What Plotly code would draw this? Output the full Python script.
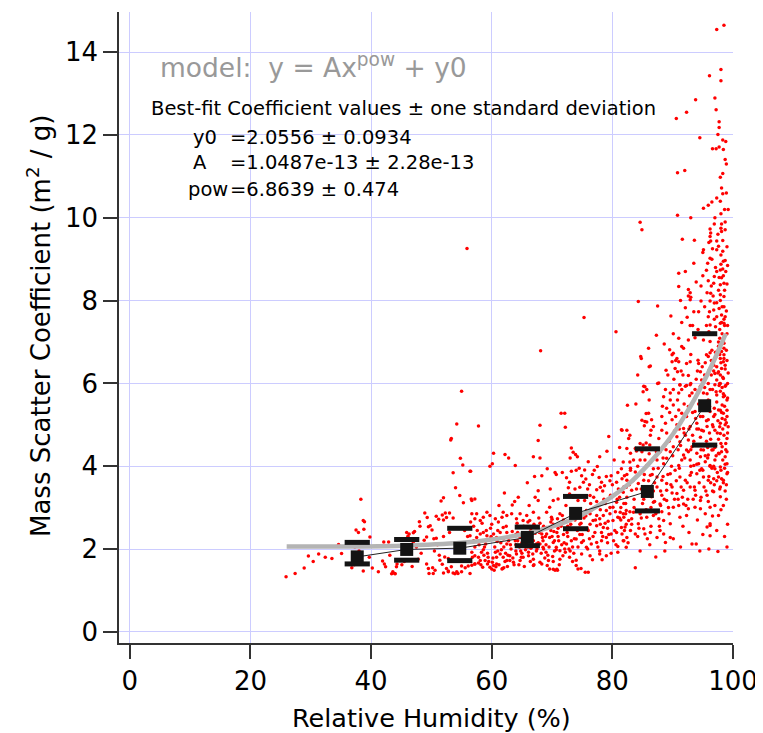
import plotly.graph_objects as go

# ---------------- data ----------------
# binned means with asymmetric spread markers
bin_rh = [37.7, 45.9, 54.7, 65.9, 73.9, 85.8, 95.3]
bin_msc = [1.81, 1.99, 2.02, 2.28, 2.86, 3.39, 5.46]
bin_upper = [2.16, 2.23, 2.50, 2.53, 3.27, 4.42, 7.20]
bin_lower = [1.64, 1.73, 1.72, 2.08, 2.49, 2.92, 4.51]

# fitted curve  y = A x^pow + y0
fit_rh = [26, 35, 45, 55, 60, 65, 70, 75, 80, 83, 86, 89, 91, 92, 93, 94, 95, 96, 97, 98, 98.8]
fit_msc = [2.06, 2.06, 2.08, 2.15, 2.23, 2.35, 2.54, 2.83, 3.27, 3.61, 4.05, 4.57, 4.98, 5.22, 5.46, 5.72, 6.00, 6.29, 6.60, 6.93, 7.20]

fit_y0 = "2.0556 ± 0.0934"
fit_A = "1.0487e-13 ± 2.28e-13"
fit_pow = "6.8639 ± 0.474"

x_ticks = [0, 20, 40, 60, 80, 100]
y_ticks = [0, 2, 4, 6, 8, 10, 12, 14]

# individual observations (RH %, mass scatter coefficient)
obs_low = [
    (25.9, 1.33), (27.4, 1.41), (28.9, 1.54), (29.6, 1.83), (30.4, 1.70), (31.3, 1.88), (32.4, 1.80),
    (33.5, 1.77), (34.6, 2.11), (35.1, 1.89), (37.5, 2.46), (37.9, 2.40), (38.3, 3.20), (38.7, 2.69),
    (38.9, 2.66), (38.8, 2.48), (39.8, 2.29), (38.7, 1.47), (39.7, 1.80), (40.2, 1.54), (41.2, 1.45),
    (41.9, 1.71), (42.2, 1.64), (42.4, 1.57), (42.1, 2.17), (42.9, 2.17), (43.1, 1.85), (43.4, 1.40),
    (44.0, 1.40), (44.2, 1.57), (44.3, 1.64), (45.1, 1.62), (36.8, 1.55), (37.2, 1.62), (38.0, 1.95),
    (37.3, 2.05), (43.6, 1.45), (43.9, 1.41),
    (45.9, 2.40), (46.1, 2.31), (46.3, 2.36), (47.0, 2.39), (47.2, 2.42), (48.0, 2.66), (48.1, 2.55),
    (48.9, 2.87), (49.3, 2.76), (49.5, 2.54), (49.8, 2.56), (50.1, 2.46), (49.2, 2.29), (48.8, 2.21),
    (49.2, 1.64), (49.5, 1.53), (49.6, 1.41), (50.2, 1.55), (50.4, 2.25), (50.8, 2.26), (50.8, 2.79),
    (51.2, 2.72), (51.8, 2.82), (52.0, 2.70), (52.3, 2.87), (52.5, 2.76), (53.0, 2.87), (53.6, 2.75),
    (51.6, 3.16), (52.0, 3.24), (53.6, 3.84), (54.0, 3.48), (54.8, 4.19), (55.2, 4.03), (56.4, 3.88),
    (54.7, 3.29), (55.3, 3.12), (56.6, 3.21), (53.2, 4.63), (54.2, 5.02), (53.3, 4.67), (55.0, 5.81),
    (55.9, 9.26), (51.4, 1.73), (51.8, 1.63), (52.2, 1.81), (52.5, 1.53), (52.8, 1.47), (53.3, 1.57),
    (53.6, 1.42), (53.9, 1.40), (54.2, 1.45), (55.0, 1.59), (55.6, 1.55), (56.1, 1.59), (56.7, 1.61),
    (57.2, 1.64), (57.8, 1.66), (52.8, 1.77), (51.3, 1.85), (52.0, 1.42), (46.5, 1.95), (47.5, 2.05),
    (48.3, 1.90), (50.5, 1.95), (51.0, 2.10), (52.0, 2.30), (53.0, 2.40), (54.0, 2.15), (56.0, 2.30),
    (57.0, 2.55), (57.5, 2.85), (56.5, 2.65), (55.5, 2.45), (57.2, 2.05), (58.0, 2.20), (56.8, 1.80),
    (45.5, 1.70), (46.8, 1.58), (47.8, 1.75), (47.0, 2.15), (50.3, 1.41), (50.6, 1.49), (52.8, 1.45),
    (54.4, 1.41), (55.0, 1.45), (56.4, 1.41),
]

obs_mid = [
    (71.5, 5.28), (72.1, 5.28), (72.2, 4.94), (68.0, 4.99), (57.8, 4.97), (67.7, 4.62), (81.5, 4.88),
    (79.4, 4.72), (60.3, 4.31), (60.1, 4.06), (59.7, 4.00), (62.2, 4.28), (62.8, 4.20), (63.9, 4.02),
    (66.9, 4.23), (68.0, 4.20), (73.2, 4.44), (73.5, 4.34), (73.9, 4.28), (74.2, 4.23), (73.0, 4.20),
    (76.0, 4.11), (77.9, 4.23), (79.1, 4.36), (77.5, 3.99), (56.5, 3.88),
    (69.2, 3.94), (68.3, 3.77), (70.7, 3.80), (71.7, 3.85), (72.4, 3.72), (72.9, 3.61), (73.2, 3.88),
    (74.0, 3.90), (74.9, 3.77), (75.4, 3.91), (75.6, 3.69), (75.2, 3.61), (74.6, 3.49), (73.8, 3.45),
    (72.7, 3.48), (72.9, 3.33), (73.5, 3.25), (74.3, 3.17), (75.4, 3.17), (76.3, 3.29), (76.9, 3.25),
    (77.4, 3.43), (78.0, 3.49), (78.2, 3.61), (77.8, 3.73), (78.7, 3.53), (79.6, 3.65), (79.8, 3.77),
    (80.7, 3.61), (80.9, 3.85), (81.5, 3.94), (82.0, 3.77), (82.3, 3.49), (81.8, 3.37), (81.2, 3.25),
    (80.7, 3.13), (80.1, 3.01), (79.6, 2.85), (79.0, 2.93), (78.5, 2.81), (77.9, 2.73), (77.4, 2.81),
    (76.8, 2.69), (76.3, 2.85), (75.7, 2.93), (76.3, 2.60), (77.4, 2.56), (78.5, 2.52), (79.3, 2.67),
    (80.1, 2.69), (80.9, 2.77), (81.8, 2.85), (82.3, 2.93), (82.3, 2.60), (81.5, 2.52), (80.7, 2.40),
    (79.8, 2.36), (79.0, 2.28), (78.2, 2.20), (77.4, 2.16), (76.5, 2.12), (75.7, 2.04), (74.9, 2.16),
    (74.0, 2.24), (73.2, 2.20), (72.4, 2.12), (72.1, 2.00), (71.3, 1.96), (70.7, 2.04), (70.2, 2.16),
    (69.6, 2.28), (69.1, 2.36), (68.5, 2.20), (68.0, 2.12), (68.3, 2.36), (69.1, 2.52), (70.2, 2.60),
    (70.9, 2.73), (71.3, 2.85), (71.7, 2.81), (71.0, 3.21), (70.2, 3.17), (69.6, 3.01), (69.1, 2.89),
    (69.9, 2.77), (67.7, 3.41), (67.2, 3.25), (66.9, 2.89), (67.7, 3.17), (66.3, 2.69), (65.8, 2.81),
    (65.2, 2.69), (64.7, 2.85), (64.1, 2.73), (63.3, 2.85), (62.5, 2.81), (61.9, 2.89), (61.7, 2.77),
    (61.1, 2.65), (60.6, 2.73), (59.7, 2.81), (59.2, 2.89), (58.6, 2.77), (58.1, 2.69), (57.2, 2.73),
    (56.7, 2.85), (57.2, 3.21), (56.7, 3.17), (64.4, 3.25), (63.4, 3.06), (67.9, 2.40), (68.5, 2.04),
    (67.4, 2.12), (66.9, 2.20), (66.3, 2.32), (65.5, 2.36), (64.7, 2.28), (63.9, 2.20), (63.0, 2.30),
    (62.5, 2.40), (61.9, 2.52), (61.4, 2.40), (60.8, 2.28), (60.3, 2.36), (59.7, 2.24), (59.2, 2.32),
    (58.6, 2.40), (58.1, 2.36), (57.5, 2.28), (57.0, 2.20), (56.4, 2.32), (80.9, 2.06), (81.8, 2.20),
    (82.3, 2.04),
    (56.7, 1.92), (57.2, 1.84), (57.8, 1.80), (58.3, 1.92), (58.9, 1.72), (59.3, 1.64), (59.7, 1.56),
    (60.0, 1.52), (60.3, 1.60), (60.8, 1.80), (61.4, 1.88), (61.9, 1.80), (62.5, 1.72), (63.0, 1.84),
    (63.6, 1.68), (64.1, 1.88), (64.7, 1.72), (65.2, 1.80), (66.1, 1.84), (66.9, 1.60), (68.3, 1.64),
    (69.4, 1.72), (70.2, 1.70), (69.6, 1.52), (70.5, 1.49), (70.9, 1.49), (71.8, 1.84), (72.9, 1.80),
    (74.0, 1.73), (74.3, 1.52), (75.5, 1.44), (76.3, 1.84), (77.9, 1.88), (79.0, 1.84), (80.9, 1.92),
    (57.2, 1.64), (58.1, 1.72), (59.4, 1.80), (60.8, 1.64), (61.7, 1.52), (58.5, 1.56), (60.4, 1.49),
    (60.7, 1.57), (61.8, 1.53), (70.2, 1.51), (70.8, 1.51), (74.8, 1.53), (76.0, 1.44), (76.7, 1.74),
    (78.3, 1.74),
    (60.5, 2.05), (61.0, 1.95), (61.5, 2.15), (62.0, 2.05), (62.3, 1.90), (62.8, 2.20), (63.2, 2.00),
    (63.5, 1.78), (64.0, 2.10), (64.3, 2.40), (64.8, 1.95), (65.0, 2.15), (65.3, 2.55), (65.6, 1.98),
    (66.0, 2.05), (66.5, 2.45), (66.8, 1.88), (67.0, 2.60), (67.5, 2.00), (67.8, 2.75), (68.2, 1.90),
    (68.6, 2.55), (69.0, 2.10), (69.3, 1.85), (69.8, 2.45), (70.0, 2.30), (70.4, 1.95), (70.8, 2.40),
    (71.1, 2.20), (71.5, 2.55), (71.9, 2.35), (72.2, 2.65), (72.6, 2.30), (73.0, 2.50), (73.4, 2.05),
    (73.8, 2.70), (74.2, 2.45), (74.6, 2.60), (75.0, 2.35), (75.3, 2.75), (75.8, 2.50), (76.2, 2.25),
    (76.6, 2.95), (77.1, 2.40), (77.6, 3.05), (78.0, 2.60), (78.4, 2.30), (78.8, 3.10), (79.2, 2.50),
    (79.7, 3.30), (80.2, 2.20), (80.5, 2.90), (81.0, 3.45), (81.4, 2.70), (81.9, 3.10), (82.4, 3.80),
    (58.8, 2.05), (59.3, 1.90), (59.8, 2.50), (60.1, 1.68), (62.6, 1.58), (64.5, 1.62), (66.4, 1.70),
    (68.8, 1.78), (71.2, 1.62), (73.6, 1.90), (57.6, 2.45), (58.4, 2.62), (61.2, 3.05), (62.1, 3.35),
    (63.8, 3.15), (65.9, 3.60), (66.2, 3.05), (67.1, 3.75), (69.7, 3.45), (70.5, 3.85), (72.3, 3.05),
    (74.5, 3.95), (75.9, 3.45), (76.7, 3.80), (78.6, 3.20), (80.3, 4.15), (81.2, 4.45),
]

obs_mid_dense = [
    (58.2, 1.62), (58.7, 1.85), (59.0, 2.12), (59.5, 1.70), (59.9, 2.30), (60.2, 1.78), (60.6, 1.92),
    (60.9, 2.18), (61.2, 1.62), (61.6, 1.98), (61.9, 2.25), (62.2, 1.70), (62.4, 2.55), (62.7, 1.85),
    (63.1, 2.10), (63.4, 2.42), (63.7, 1.62), (64.0, 1.95), (64.2, 2.62), (64.6, 2.05), (64.9, 1.80),
    (65.2, 2.30), (65.4, 1.58), (65.7, 2.12), (66.1, 1.92), (66.3, 2.52), (66.6, 2.20), (66.9, 1.75),
    (67.2, 2.38), (67.4, 1.95), (67.7, 2.15), (68.0, 1.68), (68.3, 2.48), (68.6, 2.00), (68.9, 2.30),
    (69.2, 1.60), (69.5, 2.05), (69.8, 2.65), (70.1, 1.82), (70.4, 2.20), (70.7, 1.98), (71.0, 2.50),
    (71.3, 1.75), (71.6, 2.10), (71.9, 2.70), (72.2, 1.92), (72.5, 2.40), (72.8, 2.00), (73.1, 2.60),
    (73.4, 1.70), (73.7, 2.25), (74.0, 2.90), (74.3, 2.05), (74.6, 2.35), (74.9, 1.88), (59.1, 2.45),
    (60.0, 2.60), (61.0, 2.45), (62.0, 1.55), (63.0, 1.72), (64.0, 2.35), (65.0, 1.90), (66.0, 2.65),
    (67.0, 1.62), (68.0, 2.62), (69.0, 1.92), (70.0, 2.72), (71.0, 2.30), (72.0, 2.15), (73.0, 1.95),
    (74.0, 1.60), (62.5, 2.12), (64.3, 2.20), (66.5, 2.02), (68.4, 2.28), (70.3, 2.42), (72.6, 2.55),
    (74.8, 2.62), (57.9, 2.10), (58.6, 1.98),
    (75.2, 2.20), (75.6, 2.80), (76.0, 2.45), (76.4, 3.10), (76.8, 2.30), (77.2, 2.70), (77.6, 2.05),
    (78.0, 2.95), (78.4, 3.40), (78.8, 2.62), (79.2, 2.15), (79.6, 3.00), (80.0, 3.55), (80.4, 2.45),
    (80.8, 3.20), (81.2, 2.75), (81.6, 3.70), (82.0, 2.45), (82.4, 3.25), (82.8, 3.55), (83.2, 2.60),
    (83.6, 3.00), (84.0, 3.45), (84.4, 3.80), (84.8, 2.75), (85.2, 3.20), (85.6, 2.95), (86.0, 3.65),
    (86.4, 2.55), (86.8, 3.40), (87.2, 2.85), (87.6, 3.95), (88.0, 3.05), (76.2, 3.55), (77.0, 3.90),
    (78.2, 2.40), (79.0, 3.75), (80.6, 2.10), (81.8, 4.10), (83.0, 3.95), (84.2, 2.30), (85.4, 4.15),
    (86.6, 3.80), (87.8, 2.55), (75.9, 2.00), (77.9, 1.95), (79.8, 1.90), (82.6, 2.15), (84.6, 1.95),
    (86.2, 2.10), (88.2, 2.90), (83.4, 3.65), (81.4, 3.00), (79.4, 2.35), (77.4, 3.15), (85.8, 2.25),
    (87.0, 3.15), (88.4, 3.75), (84.8, 3.45), (82.2, 2.85),
]

obs_high = [
    (85.2, 5.93), (85.7, 5.85), (87.7, 6.01), (88.8, 5.85), (89.6, 5.77), (90.1, 5.85), (91.0, 5.77),
    (91.5, 5.85), (91.2, 5.97), (92.1, 5.93), (92.9, 5.97), (93.2, 5.77), (93.7, 5.85), (94.6, 5.93),
    (95.1, 5.77), (96.2, 5.85), (97.0, 5.97), (97.3, 5.72), (97.9, 5.81), (98.7, 5.93), (98.4, 5.68),
    (99.0, 5.60), (98.2, 5.48), (97.6, 5.36), (98.4, 5.28), (98.7, 5.12), (97.9, 5.04), (96.8, 5.20),
    (96.2, 5.32), (95.9, 5.12), (94.6, 5.20), (93.7, 5.32), (92.6, 5.44), (92.3, 5.20), (91.5, 5.28),
    (91.0, 5.36), (90.1, 5.48), (89.6, 5.60), (89.0, 5.40), (88.5, 5.68), (88.2, 5.20), (88.8, 5.04),
    (89.9, 5.12), (90.7, 5.00), (91.8, 4.91), (92.9, 4.96), (94.0, 5.04), (94.8, 4.87), (95.7, 4.96),
    (97.0, 4.87), (97.9, 4.79), (98.7, 5.00), (99.0, 4.67),
    (90.7, 4.71), (91.2, 4.59), (92.1, 4.75), (92.6, 4.63), (93.2, 4.47), (92.3, 4.39), (91.8, 4.27),
    (91.5, 4.15), (91.0, 4.02), (92.9, 4.15), (93.5, 4.02), (94.0, 4.31), (94.6, 4.23), (95.1, 4.39),
    (95.4, 4.11), (95.9, 4.27), (96.5, 4.39), (97.0, 4.15), (97.6, 4.31), (98.2, 4.47), (98.7, 4.23),
    (99.0, 4.06), (97.9, 3.98), (97.0, 3.94), (96.2, 4.02), (94.8, 3.94), (94.3, 4.06), (90.1, 4.47),
    (89.6, 4.35), (89.0, 4.19), (88.5, 4.06), (87.7, 4.67), (88.2, 4.87), (86.8, 4.96), (86.3, 4.75),
    (85.4, 5.08), (86.0, 5.28), (86.5, 5.12), (83.5, 4.15), (83.0, 4.31), (83.8, 4.43), (82.7, 4.67),
    (82.4, 4.87), (81.6, 4.87), (84.6, 4.15), (85.7, 4.02), (86.8, 3.94), (87.4, 4.15), (87.9, 4.35),
    (84.9, 4.35), (84.6, 4.55),
    (83.0, 3.90), (83.8, 3.86), (82.4, 3.66), (81.9, 3.50), (83.2, 3.42), (84.3, 3.58), (85.2, 3.66),
    (86.3, 3.78), (87.4, 3.74), (88.2, 3.66), (89.0, 3.58), (89.6, 3.82), (90.4, 3.90), (91.2, 3.74),
    (92.1, 3.66), (92.9, 3.78), (94.0, 3.82), (95.1, 3.74), (95.9, 3.66), (96.8, 3.70), (97.6, 3.74),
    (98.4, 3.66), (99.0, 3.82), (97.9, 3.50), (96.8, 3.38), (95.7, 3.30), (94.6, 3.17), (93.7, 3.42),
    (92.9, 3.50), (91.8, 3.42), (90.7, 3.34), (89.9, 3.50), (89.0, 3.42), (88.2, 3.30), (87.4, 3.50),
    (86.5, 3.26), (86.8, 3.13), (87.9, 3.09), (89.0, 3.17), (90.1, 3.01), (91.0, 3.05), (91.8, 3.09),
    (92.6, 2.97), (93.7, 3.01), (94.6, 2.97), (92.3, 2.81), (91.2, 2.77), (89.6, 2.61), (88.5, 2.69),
    (87.7, 2.73), (86.8, 2.81), (85.7, 2.77), (84.6, 2.85), (83.5, 2.89), (82.7, 2.69), (81.9, 2.77),
    (81.3, 2.89), (82.1, 2.53), (83.0, 2.45), (83.8, 2.36), (85.2, 2.49), (86.3, 2.40), (87.4, 2.28),
    (88.5, 2.36), (88.8, 2.16), (89.6, 2.28), (87.9, 2.45), (85.4, 2.36), (84.3, 2.61), (83.2, 2.73),
    (82.4, 2.28), (81.9, 2.20), (81.6, 2.36), (96.2, 2.61), (95.7, 2.53), (96.2, 2.32), (97.9, 3.26),
    (98.4, 3.05), (97.6, 2.81), (96.2, 3.01), (95.4, 2.85), (87.2, 1.81), (83.8, 1.55), (97.5, 1.94),
    (93.2, 2.12), (93.9, 2.12), (96.2, 2.57),
    (93.5, 4.6), (94.0, 4.9), (94.3, 5.5), (94.7, 4.4), (95.0, 5.2), (95.3, 5.9), (95.6, 4.6),
    (95.9, 5.6), (96.1, 4.8), (96.4, 6.2), (96.6, 5.0), (96.9, 5.4), (97.1, 4.5), (97.3, 6.4),
    (97.5, 5.1), (97.7, 4.3), (97.9, 6.0), (98.1, 5.3), (98.3, 4.9), (98.5, 6.6), (98.6, 5.7),
    (98.8, 4.4), (99.0, 5.2), (98.9, 6.8), (98.4, 7.0), (97.8, 6.7), (97.2, 5.8), (96.8, 4.0),
    (96.3, 3.6), (95.8, 4.2), (95.2, 3.5), (94.5, 3.9), (93.8, 3.3), (93.0, 4.0), (92.5, 3.2),
    (92.0, 4.2), (91.4, 3.5), (90.9, 4.4), (90.3, 3.2), (89.8, 4.0), (89.3, 3.0), (88.7, 4.5),
    (88.0, 3.4), (87.5, 2.9), (87.0, 3.6), (86.4, 3.0), (85.9, 3.4), (85.0, 3.1), (84.4, 2.5),
    (83.6, 3.2), (82.9, 2.9), (82.2, 3.1), (98.0, 3.9), (98.7, 3.4), (99.1, 4.8), (99.1, 6.0),
    (98.2, 5.9), (97.4, 4.8), (96.7, 4.4), (95.5, 5.4), (94.2, 4.5), (93.3, 5.3), (92.7, 4.9),
    (91.9, 5.5), (91.1, 4.9), (90.5, 5.2), (89.4, 4.6), (88.4, 4.2), (87.2, 4.4), (86.1, 4.3),
    (85.3, 3.8), (84.2, 4.0), (99.0, 7.2), (98.6, 7.4), (97.6, 7.0), (96.5, 6.8), (95.4, 6.5),
    (94.1, 6.3), (93.0, 6.7), (91.7, 6.2), (90.2, 6.1),
    (82.5, 5.47), (83.9, 5.50), (85.6, 5.27), (85.7, 5.07), (86.1, 6.40), (85.4, 5.92), (85.1, 5.80),
    (86.1, 5.60), (84.9, 5.11), (85.3, 4.98), (86.4, 4.87), (82.9, 4.75), (82.9, 4.10), (82.4, 4.43),
    (84.0, 4.37), (85.1, 4.51), (85.6, 4.56), (86.2, 4.51), (87.3, 4.35),
]

obs_high_dense = [
    (88.6, 3.20), (89.0, 4.80), (89.2, 3.80), (89.5, 5.30), (89.9, 3.35), (90.0, 4.25), (90.3, 4.85),
    (90.6, 3.65), (90.8, 5.60), (91.1, 3.95), (91.3, 4.50), (91.6, 3.25), (91.9, 4.80), (92.1, 5.25),
    (92.4, 3.60), (92.6, 4.35), (92.8, 5.70), (93.1, 3.85), (93.3, 4.75), (93.6, 3.50), (93.8, 5.15),
    (94.0, 4.05), (94.2, 5.80), (94.4, 3.60), (94.6, 4.70), (94.8, 5.45), (95.0, 3.90), (95.1, 4.85),
    (95.3, 6.20), (95.5, 3.40), (95.6, 5.10), (95.8, 4.45), (95.9, 6.00), (96.0, 3.75), (96.1, 5.45),
    (96.3, 4.65), (96.4, 6.55), (96.5, 3.95), (96.6, 5.85), (96.7, 4.95), (96.9, 3.55), (97.0, 5.25),
    (97.1, 6.75), (97.2, 4.25), (97.3, 5.55), (97.4, 3.85), (97.5, 6.25), (97.6, 4.65), (97.7, 5.95),
    (97.8, 3.45), (97.9, 5.35), (98.0, 4.55), (98.0, 6.50), (98.1, 3.70), (98.2, 5.15), (98.3, 6.15),
    (98.3, 4.15), (98.4, 5.75), (98.5, 4.75), (98.5, 6.85), (98.6, 3.95), (98.6, 5.45), (98.7, 6.35),
    (98.8, 4.55), (98.8, 5.95), (98.9, 3.55), (98.9, 5.05), (99.0, 6.55), (99.0, 4.35), (99.1, 5.65),
    (99.1, 3.85), (99.2, 6.25), (99.2, 4.95), (98.2, 7.20), (97.6, 6.90), (96.8, 6.30), (95.7, 5.75),
    (94.9, 6.40), (93.9, 6.10), (92.3, 5.95), (91.4, 6.30), (90.5, 6.55), (89.2, 6.20), (88.3, 5.45),
    (88.9, 4.40), (89.7, 3.55), (90.9, 3.20), (92.2, 3.05), (93.4, 3.20), (94.7, 3.25), (95.9, 3.15),
    (97.0, 3.05), (98.0, 2.95), (98.9, 3.20), (99.1, 2.60), (96.6, 2.80), (94.1, 2.70), (91.7, 2.55),
    (89.4, 2.85), (90.1, 2.25), (92.7, 2.40), (95.0, 2.35), (97.3, 2.45), (98.6, 2.30), (99.0, 2.05),
    (94.5, 1.95), (91.3, 2.05), (88.7, 1.95), (96.0, 2.00), (93.0, 4.40), (94.3, 4.90), (95.4, 4.25),
    (96.2, 4.00), (97.0, 4.45), (97.8, 4.95), (98.4, 3.60), (99.0, 5.35), (98.7, 4.05), (98.1, 4.35),
    (97.3, 3.65), (96.6, 3.40),
    (95.3, 7.85), (95.8, 8.90), (96.0, 7.25), (96.4, 8.35), (96.6, 9.25), (96.9, 7.55), (97.1, 8.80),
    (97.3, 7.95), (97.5, 9.60), (97.6, 8.25), (97.8, 7.30), (98.0, 9.10), (98.1, 8.55), (98.2, 7.85),
    (98.3, 9.45), (98.4, 8.95), (98.5, 7.55), (98.6, 8.25), (98.7, 9.90), (98.8, 8.70), (98.9, 7.75),
    (99.0, 8.40), (99.0, 9.30), (99.1, 7.40), (99.1, 8.85), (97.0, 10.00), (97.9, 10.40), (98.9, 10.60),
    (96.0, 9.40), (95.0, 8.60), (94.2, 7.30), (93.9, 8.45), (92.4, 7.60), (91.3, 8.00), (90.1, 7.20),
    (88.6, 6.95), (99.2, 10.20), (98.0, 9.75), (96.9, 9.85), (98.9, 11.30),
]

obs_top = [
    (97.3, 14.55), (98.5, 14.65), (98.0, 13.58), (96.1, 13.43), (98.0, 13.31), (93.8, 12.85),
    (97.0, 12.89), (97.2, 12.61), (92.3, 12.55), (90.6, 12.40), (97.7, 12.32), (97.7, 12.18),
    (97.5, 12.01), (94.5, 11.93), (98.3, 11.88), (98.8, 11.84), (96.6, 11.67), (97.2, 11.67),
    (97.7, 11.71), (98.4, 11.65), (98.7, 11.41), (90.8, 11.09), (92.0, 11.14), (98.3, 11.07),
    (97.9, 10.98), (98.1, 10.72), (98.3, 10.58), (97.3, 10.48), (96.5, 10.38), (95.9, 10.30),
    (95.1, 10.23), (90.8, 10.06), (93.0, 10.00), (98.0, 10.10), (98.6, 10.20), (84.6, 9.89),
    (84.9, 9.71), (91.6, 9.48), (93.6, 9.46), (96.2, 9.73), (96.3, 9.63), (96.2, 9.55), (96.3, 9.44),
    (98.1, 9.85), (98.1, 9.67), (98.7, 9.71), (97.3, 9.44), (97.6, 9.31), (97.3, 9.23), (95.1, 9.23),
    (95.0, 9.16), (98.3, 9.19), (98.7, 8.97), (96.2, 9.02), (96.5, 9.00), (98.0, 8.88), (98.3, 8.76),
    (97.9, 8.74), (97.3, 8.70), (93.5, 8.90), (95.6, 8.73), (91.0, 8.66), (92.1, 8.70), (96.9, 8.58),
    (97.7, 8.56), (98.4, 8.60), (95.9, 8.48), (96.8, 8.42), (97.9, 8.38), (98.5, 8.42), (94.7, 8.35),
    (91.0, 8.34), (92.6, 8.27), (92.9, 8.19), (92.6, 8.11), (93.0, 8.08), (92.9, 8.02), (95.7, 8.19),
    (96.3, 8.18), (96.7, 8.11), (97.9, 8.14), (98.5, 8.10), (84.3, 7.98), (87.5, 7.87), (94.7, 7.99),
    (96.2, 7.99), (96.9, 7.94), (97.9, 8.00), (98.5, 7.85), (92.1, 7.83), (93.5, 7.73), (94.3, 7.73),
    (96.1, 7.73), (96.8, 7.77), (97.7, 7.81), (89.7, 7.63), (95.9, 7.61), (97.3, 7.61), (98.1, 7.65),
    (98.7, 7.61), (91.5, 7.47), (92.9, 7.40), (93.3, 7.40), (95.6, 7.40), (96.2, 7.41), (97.1, 7.37),
    (97.9, 7.45), (98.1, 7.47), (98.5, 7.45), (87.3, 7.16), (91.0, 7.09), (92.6, 7.05), (93.7, 7.10),
    (95.1, 7.05), (96.2, 7.01), (97.8, 7.09), (98.4, 7.09), (98.5, 6.97), (89.5, 6.81), (90.1, 6.73),
    (89.9, 6.69), (86.0, 6.85), (84.7, 6.65), (84.8, 6.60), (91.5, 6.89), (91.8, 6.85), (90.7, 6.60),
    (91.0, 6.52), (89.9, 6.52), (92.3, 6.48), (92.9, 6.52), (94.2, 6.56), (94.3, 6.48), (95.6, 6.69),
    (95.9, 6.65), (96.2, 6.74), (97.6, 6.81), (98.1, 6.77), (98.5, 6.69), (97.9, 6.60), (98.4, 6.52),
    (98.7, 6.44), (98.1, 6.36), (97.6, 6.28), (97.9, 6.20), (98.4, 6.12), (97.3, 6.08), (97.8, 6.00),
    (86.3, 6.42), (88.9, 6.32), (90.4, 6.36), (90.8, 6.28), (84.2, 6.20), (92.6, 6.19), (94.6, 6.28),
    (96.1, 6.34), (95.8, 6.24), (96.8, 6.44), (97.0, 6.24), (87.5, 6.00), (91.2, 5.96), (93.0, 6.00),
    (94.8, 6.08), (75.3, 7.59), (80.6, 7.25), (68.1, 6.79),
]

# ---------------- figure ----------------
obs = obs_low + obs_mid + obs_mid_dense + obs_high + obs_high_dense + obs_top
obs_rh = [p[0] for p in obs]
obs_msc = [p[1] for p in obs]

FONT = "DejaVu Sans"
OFF = 8                      # page body margin of the browser
W, H = 763 - OFF, 733 - OFF
L, R, T, B = 111, 30, 4, 90
PW, PH = W - L - R, H - T - B


def px(xs):                  # screen pixel -> paper x
    return (xs - OFF - L) / PW


def py(ys):                  # screen pixel -> paper y
    return (H - B - (ys - OFF)) / PH


fig = go.Figure()
fig.add_trace(go.Scatter(x=obs_rh, y=obs_msc, mode="markers",
                         marker=dict(color="#ff0000", size=3.5, line=dict(width=0)),
                         showlegend=False, hoverinfo="skip"))
fig.add_trace(go.Scatter(x=fit_rh, y=fit_msc, mode="lines", line=dict(color="#b4b4b4", width=4.5, shape="spline"),
                         showlegend=False))
fig.add_trace(go.Scatter(x=bin_rh, y=bin_msc, mode="lines+markers", line=dict(color="#222222", width=1),
                         marker=dict(symbol="square", size=13, color="#141414"), showlegend=False))
for caps in (bin_upper, bin_lower):
    fig.add_trace(go.Scatter(x=bin_rh, y=caps, mode="markers",
                             marker=dict(symbol="line-ew", size=18, line=dict(width=5, color="#141414")),
                             showlegend=False))

axis_common = dict(showgrid=True, gridcolor="#ccccff", gridwidth=1, showline=True, linecolor="#333333",
                   linewidth=1.5, ticks="outside", ticklen=14, tickwidth=1.5, tickcolor="#333333",
                   tickfont=dict(family=FONT, size=26, color="#000000"), zeroline=False)
fig.update_layout(
    width=W, height=H, margin=dict(l=L, r=R, t=T, b=B), plot_bgcolor="white", paper_bgcolor="white",
    xaxis=dict(range=[-1.8, 100], tickvals=x_ticks, **axis_common),
    yaxis=dict(range=[-0.27, 14.97], tickvals=y_ticks, **axis_common),
    shapes=[
        dict(type="rect", xref="paper", yref="paper", x0=px(160), x1=px(481), y0=py(86), y1=py(33),
             fillcolor="white", line=dict(width=0), layer="between"),
        dict(type="rect", xref="paper", yref="paper", x0=px(151), x1=px(654), y0=py(205), y1=py(97),
             fillcolor="white", line=dict(width=0), layer="between"),
    ],
)

TXT = 19.5
ann = [
    dict(text="model:  y = Ax<sup>pow</sup> + y0", x=px(158), y=py(66), xanchor="left", yanchor="middle",
         font=dict(family=FONT, size=26.5, color="#999999")),
    dict(text="Best-fit Coefficient values ± one standard deviation", x=px(149), y=py(108), xanchor="left",
         yanchor="middle", font=dict(family=FONT, size=TXT, color="#000000")),
    dict(text="y0", x=px(191), y=py(137), xanchor="left", yanchor="middle",
         font=dict(family=FONT, size=TXT, color="#000000")),
    dict(text="=" + fit_y0, x=px(228), y=py(137), xanchor="left", yanchor="middle",
         font=dict(family=FONT, size=TXT, color="#000000")),
    dict(text="A", x=px(191), y=py(163), xanchor="left", yanchor="middle",
         font=dict(family=FONT, size=TXT, color="#000000")),
    dict(text="=" + fit_A, x=px(228), y=py(163), xanchor="left", yanchor="middle",
         font=dict(family=FONT, size=TXT, color="#000000")),
    dict(text="pow", x=px(230), y=py(190), xanchor="right", yanchor="middle",
         font=dict(family=FONT, size=TXT, color="#000000")),
    dict(text="=" + fit_pow, x=px(228), y=py(190), xanchor="left", yanchor="middle",
         font=dict(family=FONT, size=TXT, color="#000000")),
    dict(text="Relative Humidity (%)", x=px(431), y=py(718), xanchor="center", yanchor="middle",
         font=dict(family=FONT, size=25.5, color="#000000")),
    dict(text="Mass Scatter Coefficient (m<sup>2</sup> / g)", x=px(39), y=py(326), xanchor="center",
         yanchor="middle", textangle=-90, font=dict(family=FONT, size=26, color="#000000")),
]
for a in ann:
    a.update(xref="paper", yref="paper", showarrow=False)
fig.update_layout(annotations=ann)

fig.write_html("out.html")
